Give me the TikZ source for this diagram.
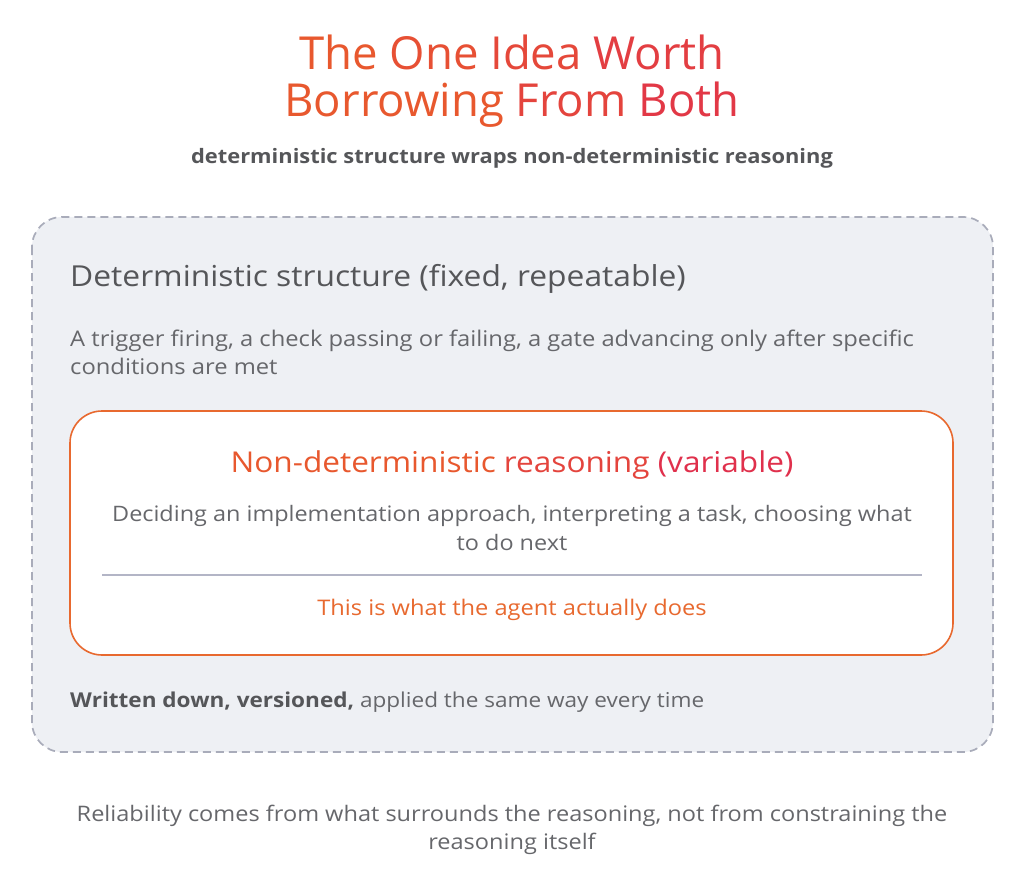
\documentclass[tikz,border=0pt]{standalone}
\usepackage{fontspec}
\setmainfont{Open Sans}[FakeStretch=1.1]
\newfontfamily\titlefont{Open Sans}
\usepackage{tikz}
\usetikzlibrary{positioning}

\definecolor{warmA}{HTML}{E8582E}
\definecolor{warmB}{HTML}{E0304C}
\definecolor{inkdark}{HTML}{555659}
\definecolor{inkbody}{HTML}{66676B}
\definecolor{panelfill}{HTML}{EEF0F4}
\definecolor{paneledge}{HTML}{A9ACBA}
\definecolor{accent}{HTML}{E8692F}
\definecolor{rulegrey}{HTML}{B3B5C6}

\tikzset{
  txt/.style={inner sep=0pt, anchor=base},
  txtleft/.style={inner sep=0pt, anchor=base west},
  outerpanel/.style={fill=panelfill, draw=paneledge, line width=1.7pt, dash pattern=on 8pt off 5pt, rounded corners=30pt},
  innerpanel/.style={fill=white, draw=accent, line width=1.6pt, rounded corners=32pt}
}

\begin{document}
\begin{tikzpicture}[x=1pt,y=-1pt]
\useasboundingbox (0,0) rectangle (1024,885);
% heading (base = last line)
\node[txt,align=center,font=\titlefont\fontsize{45.5}{47}\selectfont] (title) at (512,117)
  {\textcolor{warmA}{The} \textcolor{warmA!80!warmB}{One} \textcolor{warmA!60!warmB}{Idea} \textcolor{warmA!35!warmB}{Worth}\\
   \textcolor{warmA}{Borrowing} \textcolor{warmA!50!warmB}{From} \textcolor{warmA!20!warmB}{Both}};
\node[txt,font=\fontsize{19.9}{22}\selectfont\bfseries,text=inkdark] (sub) at (512,164)
  {deterministic structure wraps non-deterministic reasoning};
% panels
\draw[outerpanel] (32,217) rectangle (993,752);
\draw[innerpanel] (70,411) rectangle (953,655);
\node[txtleft,font=\fontsize{28.9}{32}\selectfont,text=inkdark] (dethead) at (70,286)
  {Deterministic structure (fixed, repeatable)};
\node[txtleft,align=left,font=\fontsize{21.6}{28}\selectfont,text=inkbody] (detbody) at (70,374)
  {A trigger firing, a check passing or failing, a gate advancing only after specific\\conditions are met};
\node[txt,font=\fontsize{28.7}{32}\selectfont] (ndhead) at (512,472)
  {\textcolor{warmA}{Non-deterministic} \textcolor{warmA!50!warmB}{reasoning} \textcolor{warmB}{(variable)}};
\node[txt,align=center,font=\fontsize{21.3}{29}\selectfont,text=inkbody] (ndbody) at (512,550)
  {Deciding an implementation approach, interpreting a task, choosing what\\to do next};
\coordinate (ruleL) at (102,575);
\coordinate (ruleR) at (922,575);
\draw[rulegrey,line width=1.3pt] (ruleL) -- (ruleR);
\node[txt,font=\fontsize{21.5}{24}\selectfont,text=accent] (agent) at (512,615)
  {This is what the agent actually does};
\node[txtleft,font=\fontsize{20.5}{24}\selectfont,text=inkbody] (written) at (70,707)
  {\textcolor{inkdark}{\bfseries Written down, versioned,} applied the same way every time};
% footer (base = last line)
\node[txt,align=center,font=\fontsize{21.4}{28}\selectfont,text=inkbody] (foot) at (512,849)
  {Reliability comes from what surrounds the reasoning, not from constraining the\\reasoning itself};
\end{tikzpicture}
\end{document}
